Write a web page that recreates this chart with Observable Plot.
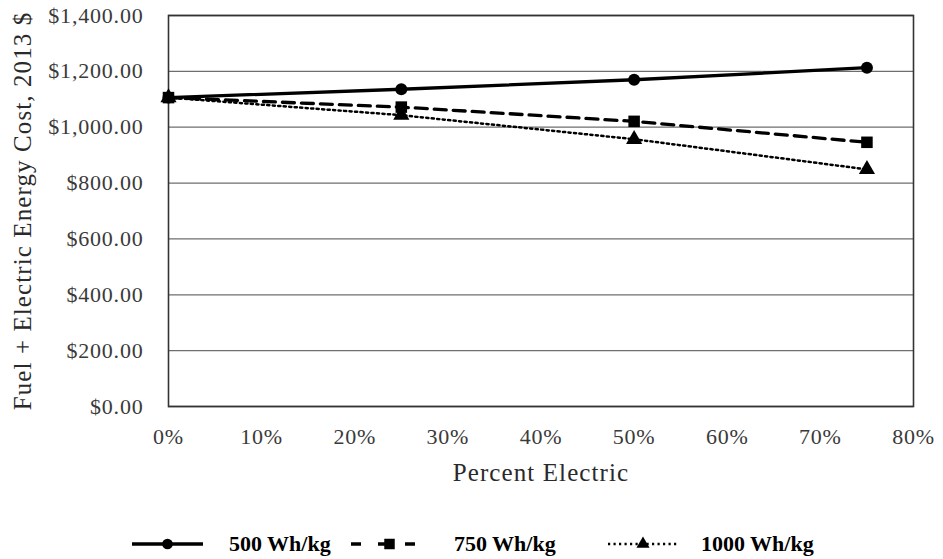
<!DOCTYPE html>
<html><head><meta charset="utf-8">
<script src="https://cdn.jsdelivr.net/npm/d3@7"></script>
<script src="https://cdn.jsdelivr.net/npm/@observablehq/plot@0.6"></script>
<style>
body{margin:0;background:#fff;font-family:"Liberation Serif","Times New Roman",serif;}
#wrap{position:relative;width:943px;height:559px;}
#chart svg text{font-family:"Liberation Serif","Times New Roman",serif !important;}
#chart g[aria-label="y-axis tick label"] text,
#chart g[aria-label="x-axis tick label"] text{font-size:22px;letter-spacing:0.8px;fill:#3a3a3a;}
#chart g[aria-label="y-axis label"] text,
#chart g[aria-label="x-axis label"] text{font-size:25px;letter-spacing:1.1px;fill:#2a2a2a;}
#legend{position:absolute;left:0;top:500px;width:943px;height:59px;}
.lg{position:absolute;top:31px;font-weight:bold;font-size:22px;color:#000;line-height:26px;}
.sw{position:absolute;top:32px;}
</style>
</head><body><div id="wrap"><div id="chart"></div><div id="legend"></div></div>
<script>
const percents = [0, 25, 50, 75];
const seriesNames = ["500 Wh/kg", "750 Wh/kg", "1000 Wh/kg"];
const cost500 = [1106, 1136, 1170, 1213];
const cost750 = [1106, 1072, 1021, 946];
const cost1000 = [1106, 1043, 957, 849];
const yTicks = [0, 200, 400, 600, 800, 1000, 1200, 1400];
const xTicks = [0, 10, 20, 30, 40, 50, 60, 70, 80];

const symbols = ["circle", "square", "triangle"];
const dashes = [null, "12,7", "2.2,3.3"];
const widths = [3.3, 3.3, 2.5];
const allCosts = [cost500, cost750, cost1000];

const data = [];
seriesNames.forEach((s, i) => percents.forEach((p, j) => data.push({series: s, pct: p, cost: allCosts[i][j], idx: i})));

const marks = [
  Plot.gridY(yTicks, {stroke: "#6e6e6e", strokeOpacity: 1, strokeWidth: 1.3}),
  Plot.frame({stroke: "#333", strokeWidth: 1.6}),
  Plot.axisY(yTicks, {tickSize: 0, tickPadding: 25, tickFormat: d3.format("$,.2f"), label: "Fuel + Electric Energy Cost, 2013 $", labelAnchor: "center", labelArrow: "none", labelOffset: 155}),
  Plot.axisX(xTicks, {tickSize: 0, tickPadding: 22, tickFormat: d => d + "%", label: "Percent Electric", labelAnchor: "center", labelArrow: "none", labelOffset: 74})
];
seriesNames.forEach((s, i) => {
  const d = data.filter(r => r.idx === i);
  marks.push(Plot.line(d, {x: "pct", y: "cost", stroke: "#000", strokeWidth: widths[i], strokeDasharray: dashes[i]}));
});
seriesNames.forEach((s, i) => {
  const d = data.filter(r => r.idx === i);
  marks.push(Plot.dot(d, {x: "pct", y: "cost", symbol: () => symbols[i], fill: "#000", stroke: "none", r: i === 1 ? 6.5 : 6}));
});

const chart = Plot.plot({
  width: 943,
  height: 500,
  marginLeft: 168,
  marginRight: 30,
  marginTop: 15,
  marginBottom: 94,
  style: {fontFamily: "'Liberation Serif','Times New Roman',serif", color: "#000", background: "#fff"},
  x: {domain: [0, 80]},
  y: {domain: [0, 1400]},
  marks
});
document.getElementById("chart").appendChild(chart);

// legend
const leg = document.getElementById("legend");
const items = [
  {x0: 132, x1: 203, tx: 229},
  {x0: 351, x1: 428, tx: 454},
  {x0: 608, x1: 678, tx: 701}
];
const symPath = {
  circle: d3.symbol(d3.symbolCircle, 90)(),
  square: d3.symbol(d3.symbolSquare, 110)(),
  triangle: d3.symbol(d3.symbolTriangle, 75)()
};
items.forEach((it, i) => {
  const w = it.x1 - it.x0;
  const svg = d3.create("svg").attr("width", w).attr("height", 24).attr("class", "sw").style("left", it.x0 + "px");
  svg.append("line").attr("x1", 0).attr("x2", w).attr("y1", 12).attr("y2", 12).attr("stroke", "#000").attr("stroke-width", widths[i]).attr("stroke-dasharray", i === 1 ? "10,17" : dashes[i]);
  svg.append("path").attr("d", symPath[symbols[i]]).attr("transform", `translate(${w/2},12)`).attr("fill", "#000");
  leg.appendChild(svg.node());
  const t = document.createElement("div");
  t.className = "lg"; t.style.left = it.tx + "px"; t.textContent = seriesNames[i];
  leg.appendChild(t);
});
</script>
</body></html>
